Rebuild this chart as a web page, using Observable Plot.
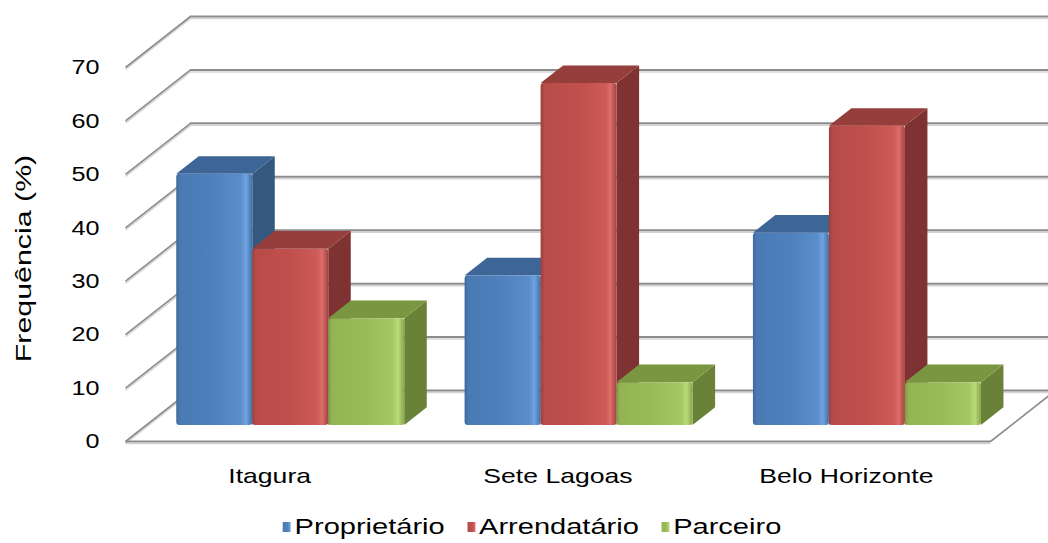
<!DOCTYPE html>
<html>
<head>
<meta charset="utf-8">
<script src="https://cdn.jsdelivr.net/npm/d3@7"></script>
<script src="https://cdn.jsdelivr.net/npm/@observablehq/plot@0.6"></script>
<style>
  html, body { margin: 0; padding: 0; background: #fff; }
  body { width: 1048px; height: 543px; overflow: hidden; font-family: "Liberation Sans", Arial, sans-serif; }
  #legend { position: relative; height: 38px; width: 1048px; }
  #legend .inner {
    position: absolute; left: 50%; top: 9px;
    transform: translateX(-50%) translateX(8px) scaleX(1.32);
    transform-origin: center;
    display: flex; align-items: center; white-space: nowrap;
    font-size: 22px; line-height: 25px; color: #000;
  }
  #legend .sw { width: 6px; height: 10px; margin-right: 3px; }
  #legend .lab { margin-right: 17px; }
  #legend .lab:last-child { margin-right: 0; }
</style>
</head>
<body>
<div id="chart"></div>
<div id="legend"></div>
<script>
// ---- data ----
const categories = ["Itagura", "Sete Lagoas", "Belo Horizonte"];
const series = ["Proprietário", "Arrendatário", "Parceiro"];
const proprietario = [47, 28, 36];
const arrendatario = [33, 64, 56];
const parceiro = [20, 8, 8];
const yTicks = [0, 10, 20, 30, 40, 50, 60, 70];
const yLabel = "Frequência (%)";

// ---- styles ----
const frontBase = ["#4F81BD", "#C0504D", "#9BBB59"];
const topColor = ["#3D6595", "#953E3C", "#7A9641"];
const sideColor = ["#35587F", "#7E3231", "#6A8138"];
const gradStops = [
  ["#3E6899", "#4A7AB3", "#4F81BD", "#5A8ECB", "#70A3DF", "#406FA6"],
  ["#9C3F3D", "#B84B48", "#C0504D", "#CC5A57", "#DB6D6A", "#A34240"],
  ["#7E9B45", "#94B454", "#9BBB59", "#A7C764", "#BBDA79", "#86A44A"]
];
const gradOffsets = [0, 0.05, 0.5, 0.85, 0.92, 1];

// ---- layout ----
const W = 1048, H = 505;
const mL = 125, mR = 58, mT = 67, mB = 64;
const yMax = 70;
const pxX = (W - mL - mR) / categories.length;
const pxY = (H - mT - mB) / yMax;
const DX = 65 / pxX, DY = 51 / pxY;   // full floor depth, data units
const d0 = 0.314, d1 = 0.66;          // bar depth slice
const barStart = 0.107, barW = 0.2636;

const values = [proprietario, arrendatario, parceiro];
const bars = [];
categories.forEach((c, ci) => series.forEach((s, si) => {
  const v = values[si][ci];
  const a = ci + barStart + si * barW, b = a + barW;
  bars.push({id: ci + "-" + si, ci, si, v, a, b});
}));
const sides = bars.flatMap(d => [
  {id: d.id, si: d.si, x: d.b + d0 * DX, y1: d0 * DY, y2: d.v + d0 * DY},
  {id: d.id, si: d.si, x: d.b + d1 * DX, y1: d1 * DY, y2: d.v + d1 * DY}
]);
const tops = bars.flatMap(d => [
  {id: d.id, si: d.si, x: d.a + d0 * DX, y1: d.v + d0 * DY, y2: d.v + d0 * DY},
  {id: d.id, si: d.si, x: d.a + d1 * DX, y1: d.v + d0 * DY, y2: d.v + d1 * DY},
  {id: d.id, si: d.si, x: d.b + d0 * DX, y1: d.v + d0 * DY, y2: d.v + d1 * DY},
  {id: d.id, si: d.si, x: d.b + d1 * DX, y1: d.v + d1 * DY, y2: d.v + d1 * DY}
]);

const gridStroke = "#8c8c8c", shadowStroke = "#d4d4d4";
const nC = categories.length;

const svg = Plot.plot({
  width: W, height: H,
  marginLeft: mL, marginRight: mR, marginTop: mT, marginBottom: mB,
  style: {fontFamily: "'Liberation Sans', Arial, sans-serif", fontSize: "20px", color: "#000", background: "#fff"},
  x: {domain: [0, nC], axis: null},
  y: {domain: [0, yMax], axis: null},
  color: {type: "identity"},
  marks: [
    // back wall gridlines (shadow + line)
    Plot.ruleY(yTicks, {y: t => t + DY, x1: () => DX, x2: () => nC + DX, stroke: shadowStroke, strokeWidth: 1.5, dy: 2}),
    Plot.ruleY(yTicks, {y: t => t + DY, x1: () => DX, x2: () => nC + DX, stroke: gridStroke, strokeWidth: 2}),
    // side wall slanted lines
    Plot.link(yTicks, {x1: () => 0, y1: t => t, x2: () => DX, y2: t => t + DY, stroke: shadowStroke, strokeWidth: 1.5, dy: 2}),
    Plot.link(yTicks, {x1: () => 0, y1: t => t, x2: () => DX, y2: t => t + DY, stroke: gridStroke, strokeWidth: 1.6}),
    // floor edges
    Plot.link([0], {x1: () => 0, y1: () => 0, x2: () => nC, y2: () => 0, stroke: shadowStroke, strokeWidth: 1.5, dy: 2}),
    Plot.link([0], {x1: () => 0, y1: () => 0, x2: () => nC, y2: () => 0, stroke: gridStroke, strokeWidth: 2}),
    Plot.link([0], {x1: () => nC, y1: () => 0, x2: () => nC + DX, y2: () => DY, stroke: gridStroke, strokeWidth: 1.6}),
    // bars: sides, tops, fronts
    Plot.area(sides, {x1: "x", y1: "y1", y2: "y2", z: "id", fill: d => sideColor[d.si]}),
    Plot.area(tops, {x1: "x", y1: "y1", y2: "y2", z: "id", fill: d => topColor[d.si]}),
    Plot.rect(bars, {
      x1: d => d.a + d0 * DX, x2: d => d.b + d0 * DX,
      y1: () => d0 * DY, y2: d => d.v + d0 * DY,
      fill: d => "url(#front" + d.si + ")", rx: 3
    }),
    // axes
    Plot.axisY(yTicks, {tickSize: 0, tickPadding: 26, fontSize: 21, label: null}),
    Plot.axisX(categories.map((c, i) => i + 0.5), {
      tickSize: 0, tickPadding: 27, fontSize: 20, label: null,
      tickFormat: t => categories[Math.floor(t)]
    }),
    Plot.text([yLabel], {frameAnchor: "left", textAnchor: "middle", dx: -102, dy: 4, rotate: -90, text: d => d, fontSize: 22})
  ]
});

// gradients
const ns = "http://www.w3.org/2000/svg";
const defs = document.createElementNS(ns, "defs");
gradStops.forEach((stops, si) => {
  const g = document.createElementNS(ns, "linearGradient");
  g.setAttribute("id", "front" + si);
  g.setAttribute("x1", "0"); g.setAttribute("x2", "1");
  g.setAttribute("y1", "0"); g.setAttribute("y2", "0");
  stops.forEach((c, k) => {
    const s = document.createElementNS(ns, "stop");
    s.setAttribute("offset", gradOffsets[k]);
    s.setAttribute("stop-color", c);
    g.appendChild(s);
  });
  defs.appendChild(g);
});
svg.insertBefore(defs, svg.firstChild);

// horizontal stretch of text (the reference text is widened)
function stretchEl(t, s) {
  let tr = t.getAttribute("transform");
  if (!tr) {
    const x = t.getAttribute("x") || 0, y = t.getAttribute("y") || 0;
    tr = "translate(" + x + "," + y + ")";
    t.removeAttribute("x"); t.removeAttribute("y");
  }
  t.setAttribute("transform", tr + " scale(" + s + ",1)");
}
svg.querySelectorAll('g[aria-label="y-axis tick label"] text').forEach(t => stretchEl(t, 1.2));
svg.querySelectorAll('g[aria-label="x-axis tick label"] text').forEach(t => stretchEl(t, 1.33));
svg.querySelectorAll("text").forEach(t => { if (t.textContent === yLabel) stretchEl(t, 1.38); });

document.getElementById("chart").appendChild(svg);

// legend
const inner = document.createElement("div");
inner.className = "inner";
series.forEach((s, i) => {
  const sw = document.createElement("span");
  sw.className = "sw";
  sw.style.background = "linear-gradient(90deg," + gradStops[i][1] + "," + frontBase[i] + " 60%," + gradStops[i][4] + ")";
  const lab = document.createElement("span");
  lab.className = "lab";
  lab.textContent = s;
  inner.appendChild(sw);
  inner.appendChild(lab);
});
document.getElementById("legend").appendChild(inner);
</script>
</body>
</html>
